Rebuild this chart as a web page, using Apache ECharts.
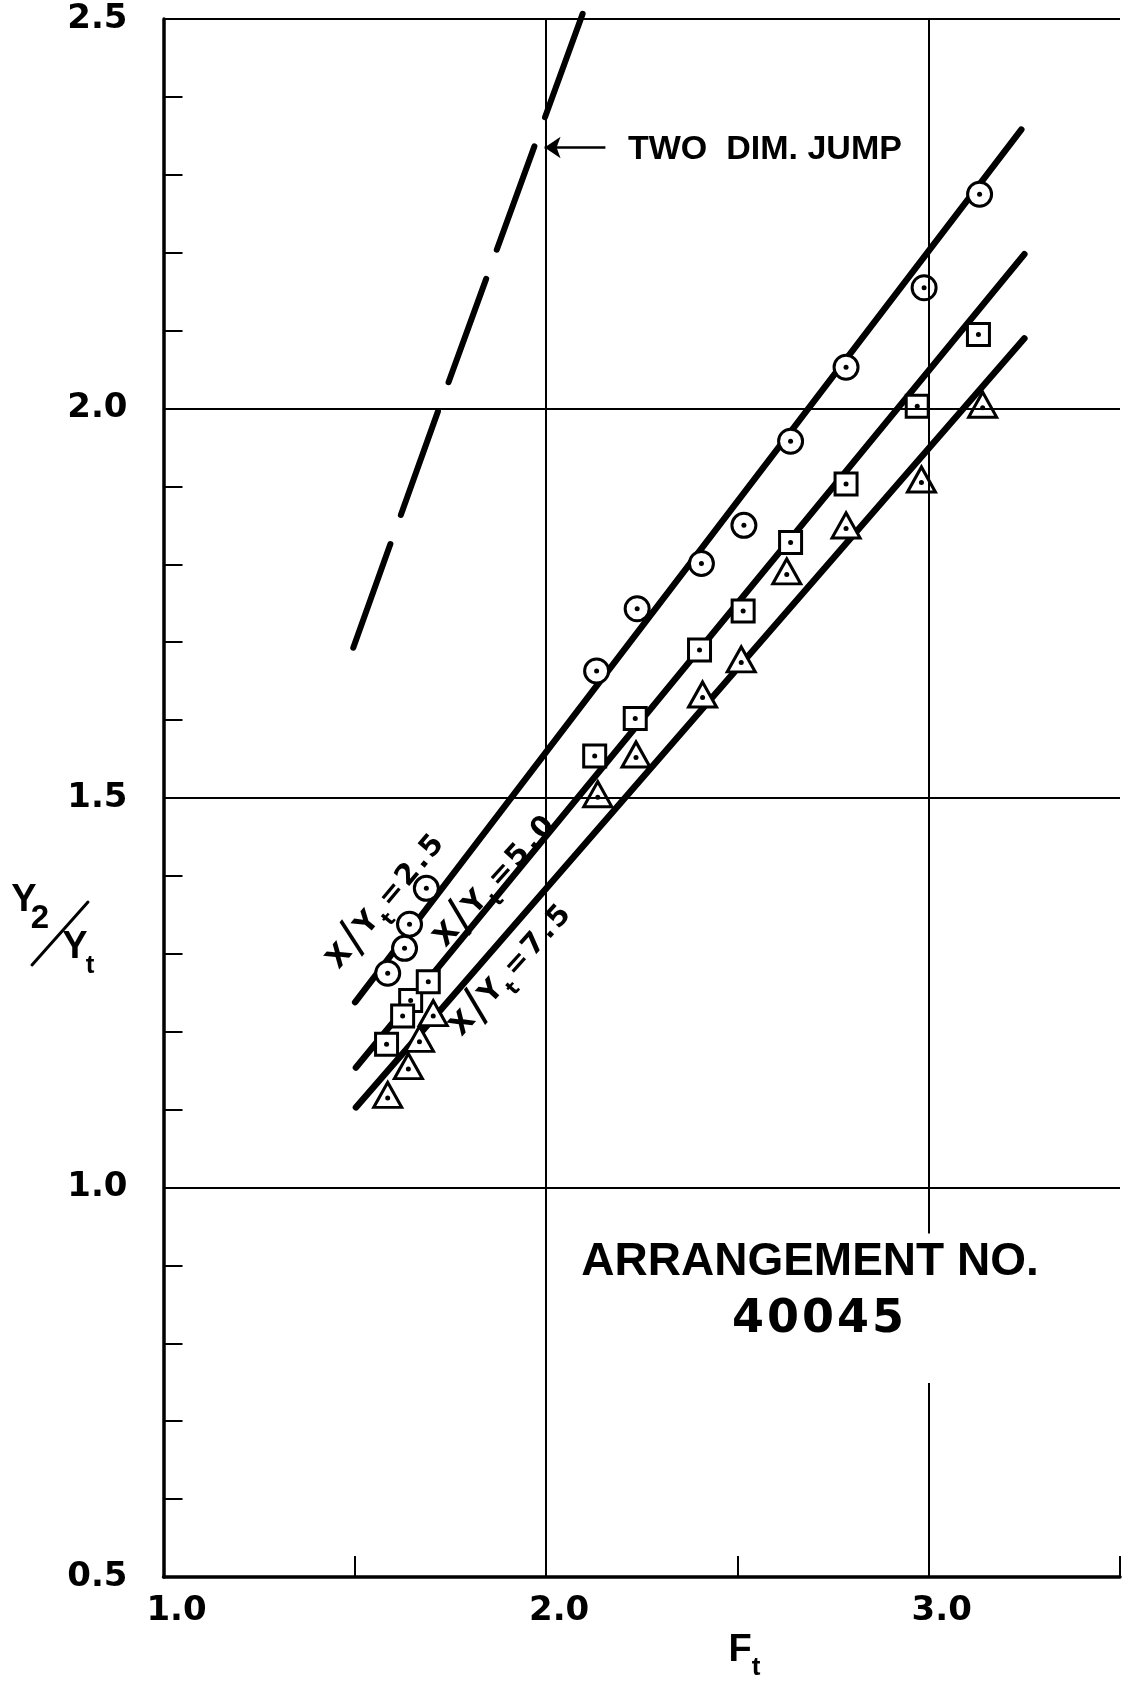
<!DOCTYPE html>
<html>
<head>
<meta charset="utf-8">
<script src="https://cdn.jsdelivr.net/npm/echarts@6/dist/echarts.min.js"></script>
<style>
  html, body { margin: 0; padding: 0; background: #fff; }
  #chart { width: 1123px; height: 1682px; }
</style>
</head>
<body>
<div id="chart"></div>
<script>
// Tick labels
const xTickLabels = ['1.0', '2.0', '3.0'];
const yTickLabels = ['0.5', '1.0', '1.5', '2.0', '2.5'];

// Measured points, x/Yt = 2.5 (circles)
const circleF = [1.586, 1.630, 1.643, 1.687, 2.132, 2.238, 2.406, 2.517, 2.639, 2.784, 2.988, 3.133];
const circleY = [1.275, 1.307, 1.338, 1.384, 1.663, 1.743, 1.801, 1.850, 1.958, 2.053, 2.155, 2.275];

// Measured points, x/Yt = 5.0 (squares)
const squareF = [1.583, 1.646, 1.625, 1.692, 2.127, 2.233, 2.401, 2.515, 2.639, 2.784, 2.970, 3.130];
const squareY = [1.184, 1.240, 1.220, 1.264, 1.554, 1.602, 1.690, 1.740, 1.828, 1.903, 2.003, 2.095];

// Measured points, x/Yt = 7.5 (triangles)
const triangleF = [1.586, 1.640, 1.669, 1.705, 2.135, 2.235, 2.409, 2.510, 2.629, 2.784, 2.981, 3.141];
const triangleY = [1.115, 1.152, 1.187, 1.220, 1.501, 1.552, 1.629, 1.674, 1.787, 1.846, 1.905, 2.001];

// Faired lines through each group (end points)
const fitCircleF = [1.501, 3.242];
const fitCircleY = [1.238, 2.358];
const fitSquareF = [1.503, 3.250];
const fitSquareY = [1.154, 2.198];
const fitTriangleF = [1.503, 3.250];
const fitTriangleY = [1.103, 2.090];

// Two-dimensional hydraulic jump curve
const jumpF = [1.496, 1.720, 2.098];
const jumpY = [1.693, 2.000, 2.510];

// Line labels
const ratioValues = ['2.5', '5.0', '7.5'];

const FONT = '"Liberation Sans", Arial, sans-serif';
const DIGITS = '"DejaVu Sans", "Liberation Sans", sans-serif';
const BLACK = '#000';

const pairs = (xs, ys) => xs.map((v, i) => [v, ys[i]]);

const chart = echarts.init(document.getElementById('chart'), null, { renderer: 'canvas' });

// "X/Yt=n.n" written along a faired line, letters spaced out like hand lettering
function ratioLabel(val, x, y, deg) {
  const tail = ('=' + val).split('').map(c => '{n|' + c + '}').join('');
  return {
    type: 'text',
    x: x, y: y,
    rotation: deg * Math.PI / 180,
    z: 20,
    style: {
      text: '{n|X}{s|/}{n|Y}{t|t}' + tail,
      textAlign: 'center', align: 'center',
      textVerticalAlign: 'middle', verticalAlign: 'middle',
      fill: BLACK,
      rich: {
        n: { fontSize: 29, fontFamily: DIGITS, fontWeight: 'bold', fill: BLACK, color: BLACK, verticalAlign: 'middle', padding: [0, 1.5, 0, 1.5] },
        s: { fontSize: 48, fontFamily: DIGITS, fill: BLACK, color: BLACK, verticalAlign: 'middle', padding: [0, 1, 0, 1] },
        t: { fontSize: 20, fontFamily: DIGITS, fontWeight: 'bold', fill: BLACK, color: BLACK, verticalAlign: 'bottom', padding: [0, 3, 0, 0] }
      }
    }
  };
}

// Spaced-out lettering for the arrangement number
function spacedText(text, x, y, size, gap) {
  return {
    type: 'text', x: x, y: y, z: 20,
    style: {
      text: text.split('').map(c => '{d|' + c + '}').join(''),
      textAlign: 'center', align: 'center',
      textVerticalAlign: 'middle', verticalAlign: 'middle',
      fill: BLACK,
      rich: {
        d: { fontSize: size, fontFamily: DIGITS, fontWeight: 'bold', fill: BLACK, color: BLACK, padding: [0, gap / 2, 0, gap / 2] }
      }
    }
  };
}

function plainText(text, x, y, size, align, family) {
  return {
    type: 'text', x: x, y: y, z: 20,
    style: {
      text: text,
      fontSize: size, fontFamily: family || FONT, fontWeight: 'bold',
      fill: BLACK,
      textAlign: align || 'center', align: align || 'center',
      textVerticalAlign: 'middle', verticalAlign: 'middle'
    }
  };
}

const option = {
  animation: false,
  backgroundColor: '#fff',
  grid: { left: 163.5, top: 19, width: 966, height: 1558, containLabel: false },
  xAxis: {
    type: 'value', min: 1, max: 3.5, interval: 1,
    axisLine: { show: true, onZero: false, lineStyle: { color: BLACK, width: 3.5 } },
    axisTick: { show: true, inside: true, length: 21, lineStyle: { color: BLACK, width: 2 } },
    minorTick: { show: true, splitNumber: 2, length: 21, lineStyle: { color: BLACK, width: 2 } },
    splitLine: { show: false },
    axisLabel: {
      show: true, margin: 17, color: BLACK,
      fontSize: 34, fontFamily: DIGITS, fontWeight: 'bold',
      padding: [0, 0, 0, 26],
      formatter: v => xTickLabels[Math.round(v) - 1] || ''
    }
  },
  yAxis: {
    type: 'value', min: 0.5, max: 2.5, interval: 0.5,
    axisLine: { show: true, onZero: false, lineStyle: { color: BLACK, width: 3.5 } },
    axisTick: { show: true, inside: true, length: 19, lineStyle: { color: BLACK, width: 2 } },
    minorTick: { show: true, splitNumber: 5, length: 19, lineStyle: { color: BLACK, width: 2 } },
    splitLine: { show: false },
    axisLabel: {
      show: true, margin: 36, color: BLACK,
      fontSize: 34, fontFamily: DIGITS, fontWeight: 'bold',
      formatter: v => yTickLabels[Math.round((v - 0.5) / 0.5)] || ''
    }
  },
  graphic: [
    // Axis titles
    plainText('Y', 24, 901, 38),
    plainText('2', 40, 919, 33),
    { type: 'line', z: 20, shape: { x1: 32, y1: 965, x2: 88, y2: 902 }, style: { stroke: BLACK, lineWidth: 3, lineCap: 'round' } },
    plainText('Y', 75, 948, 38),
    plainText('t', 90, 966, 26),
    plainText('F', 740, 1651, 38),
    plainText('t', 756, 1668, 26),
    // Annotations
    plainText('TWO  DIM. JUMP', 628, 150, 34, 'left'),
    plainText('ARRANGEMENT NO.', 810, 1262, 46),
    spacedText('40045', 818, 1320, 46, 3),
    // Line labels
    ratioLabel(ratioValues[0], 386, 902, 50),
    ratioLabel(ratioValues[1], 495, 882, 48),
    ratioLabel(ratioValues[2], 511, 971, 48)
  ],
  series: [
    {
      // faired lines
      type: 'line', name: 'fit 2.5', data: pairs(fitCircleF, fitCircleY),
      symbol: 'none', z: 2,
      lineStyle: { color: BLACK, width: 6.5, cap: 'round' }
    },
    {
      type: 'line', name: 'fit 5.0', data: pairs(fitSquareF, fitSquareY),
      symbol: 'none', z: 2,
      lineStyle: { color: BLACK, width: 6.5, cap: 'round' }
    },
    {
      type: 'line', name: 'fit 7.5', data: pairs(fitTriangleF, fitTriangleY),
      symbol: 'none', z: 2,
      lineStyle: { color: BLACK, width: 6.5, cap: 'round' }
    },
    {
      // two-dimensional jump, long dashes, with the pointer arrow
      type: 'line', name: 'two dim jump', data: pairs(jumpF, jumpY),
      symbol: 'none', z: 2, clip: false, smooth: false,
      lineStyle: { color: BLACK, width: 6, type: [110, 31], cap: 'round' },
      markLine: {
        silent: true, animation: false,
        symbol: ['arrow', 'none'], symbolSize: 16,
        label: { show: false },
        lineStyle: { color: BLACK, width: 2.5, type: 'solid' },
        data: [[{ coord: [1.996, 2.335] }, { coord: [2.155, 2.335] }]]
      }
    },
    {
      type: 'scatter', name: 'x/Yt = 2.5', data: pairs(circleF, circleY),
      symbol: 'circle', symbolSize: 24, z: 3,
      itemStyle: { color: '#fff', borderColor: BLACK, borderWidth: 3, opacity: 1 }
    },
    {
      type: 'scatter', name: 'x/Yt = 5.0', data: pairs(squareF, squareY),
      symbol: 'rect', symbolSize: 22, z: 3,
      itemStyle: { color: '#fff', borderColor: BLACK, borderWidth: 3, opacity: 1 }
    },
    {
      type: 'scatter', name: 'x/Yt = 7.5', data: pairs(triangleF, triangleY),
      symbol: 'triangle', symbolSize: [28, 25], symbolOffset: [0, -3], z: 3,
      itemStyle: { color: '#fff', borderColor: BLACK, borderWidth: 3, opacity: 1 }
    },
    {
      // centre dots of the plotted symbols
      type: 'scatter', name: 'dots',
      data: pairs(circleF, circleY).concat(pairs(squareF, squareY), pairs(triangleF, triangleY)),
      symbol: 'circle', symbolSize: 5, z: 4,
      itemStyle: { color: BLACK, opacity: 1 }
    },
    {
      // coordinate grid, drawn over the symbols
      type: 'line', name: 'grid', data: [], z: 5,
      markLine: {
        silent: true, animation: false, symbol: ['none', 'none'],
        label: { show: false },
        lineStyle: { color: BLACK, width: 2, type: 'solid' },
        data: [
          { yAxis: 1.0 }, { yAxis: 1.5 }, { yAxis: 2.0 }, { yAxis: 2.5 },
          [{ coord: [2, 0.5] }, { coord: [2, 2.5] }],
          [{ coord: [3, 0.5] }, { coord: [3, 0.749] }],
          [{ coord: [3, 0.941] }, { coord: [3, 2.5] }]
        ]
      }
    }
  ]
};

chart.setOption(option);
</script>
</body>
</html>
